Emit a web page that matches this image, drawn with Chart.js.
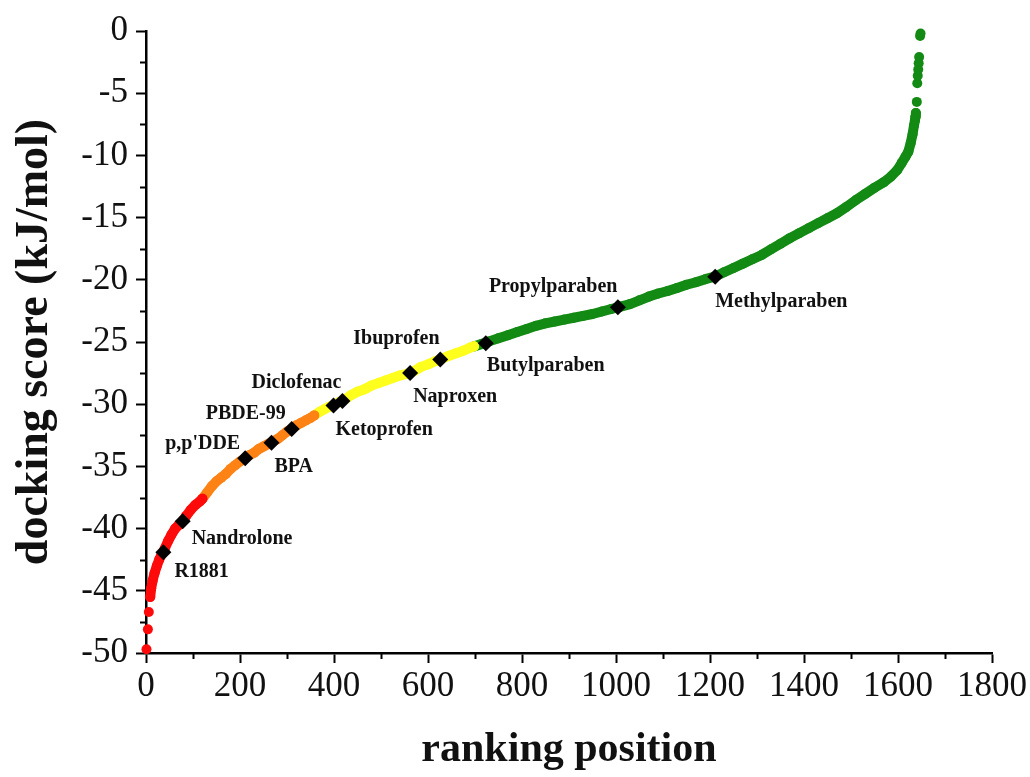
<!DOCTYPE html>
<html>
<head>
<meta charset="utf-8">
<script src="https://cdn.jsdelivr.net/npm/chart.js@4.4.1/dist/chart.umd.min.js"></script>
<style>
  html, body { margin: 0; padding: 0; background: #fff; }
  #wrap { width: 1030px; height: 777px; position: relative; }
</style>
</head>
<body>
<div id="wrap"><canvas id="dockingChart"></canvas></div>
<script>
// ranking position / docking score (kJ/mol) per colour band
// loose dots at the two ends of the ranking
const redTailRank  = [1, 4, 6];
const redTailScore = [-49.7, -48.1, -46.7];

const redRank   = [9, 11, 14, 18, 23, 28, 33, 40, 47, 54, 62, 70, 80, 85, 95, 105, 115, 120];
const redScore  = [-45.5, -44.8, -44.2, -43.6, -43.0, -42.5, -42.1, -41.6, -41.0, -40.5, -40.0, -39.7, -39.3, -39.0, -38.5, -38.1, -37.8, -37.6];

const orangeRank  = [120, 130, 140, 150, 160, 170, 180, 190, 200, 211, 220, 230, 240, 250, 260, 270, 280, 290, 300, 310, 320, 330, 340, 350, 358];
const orangeScore = [-37.6, -37.1, -36.6, -36.2, -35.9, -35.6, -35.2, -34.9, -34.6, -34.35, -34.1, -33.9, -33.6, -33.4, -33.2, -33.0, -32.8, -32.5, -32.2, -32.0, -31.7, -31.5, -31.3, -31.1, -30.9];

const yellowRank  = [358, 370, 380, 390, 400, 410, 420, 435, 450, 465, 480, 495, 510, 525, 540, 555, 570, 585, 600, 615, 630, 645, 660, 675, 690, 698];
const yellowScore = [-30.9, -30.6, -30.4, -30.2, -30.05, -29.85, -29.7, -29.3, -29.0, -28.8, -28.5, -28.3, -28.1, -27.9, -27.7, -27.55, -27.35, -27.0, -26.8, -26.55, -26.35, -26.1, -25.9, -25.7, -25.45, -25.35];

const greenRank  = [698, 715, 730, 750, 770, 790, 810, 830, 850, 870, 890, 910, 930, 950, 970, 990, 1010, 1030, 1050, 1070,
                    1090, 1110, 1130, 1150, 1170, 1190, 1210, 1230, 1250, 1270, 1290, 1310, 1330, 1350, 1370, 1390, 1410, 1430, 1450, 1470,
                    1490, 1510, 1530, 1550, 1570, 1585, 1598, 1608, 1616, 1622, 1627, 1631, 1634, 1636, 1637, 1638];
const greenScore = [-25.35, -25.15, -24.95, -24.7, -24.45, -24.2, -23.95, -23.7, -23.5, -23.35, -23.2, -23.05, -22.9, -22.75, -22.55, -22.35, -22.15, -21.95, -21.65, -21.35,
                    -21.1, -20.9, -20.65, -20.4, -20.2, -19.95, -19.75, -19.4, -19.05, -18.7, -18.35, -18.0, -17.55, -17.1, -16.65, -16.25, -15.85, -15.45, -15.05, -14.65,
                    -14.15, -13.6, -13.1, -12.6, -12.15, -11.7, -11.2, -10.6, -10.1, -9.7, -9.0, -8.3, -7.6, -7.2, -6.9, -6.6];
const greenTipRank  = [1640, 1641, 1642, 1643, 1644, 1645, 1647, 1648];
const greenTipScore = [-5.7, -4.2, -3.6, -3.1, -2.6, -2.1, -0.4, -0.2];

// highlighted compounds
const compoundNames = ['R1881', 'Nandrolone', "p,p'DDE", 'BPA', 'PBDE-99', 'Diclofenac', 'Ketoprofen', 'Naproxen', 'Ibuprofen', 'Butylparaben', 'Propylparaben', 'Methylparaben'];
const compoundRank  = [37, 78, 211, 267, 310, 399, 418, 562, 626, 723, 1004, 1211];
const compoundScore = [-41.9, -39.4, -34.35, -33.1, -32.0, -30.1, -29.75, -27.5, -26.4, -25.1, -22.2, -19.75];

// axis ticks
const xMajor = [0, 200, 400, 600, 800, 1000, 1200, 1400, 1600, 1800];
const yMajor = [0, -5, -10, -15, -20, -25, -30, -35, -40, -45, -50];

// label offsets from the marker (pixels): left edge, baseline
const labelDx = [11, 9, -80, 3, -86, -82, -7, 3, -87, 1, -129, 0];
const labelDy = [25, 23, -9, 29, -10, -17, 34, 29, -15, 28, -15, 30];

const SERIF = '"Liberation Serif", "Times New Roman", serif';
const RED = '#ff0a0a', ORANGE = '#ff8214', YELLOW = '#ffff1e', GREEN = '#138a13';

function toPoints(xs, ys) {
    return xs.map((x, i) => ({ x: x, y: ys[i] }));
}

// a run of dense dots is drawn as a thick round-capped trace through the readings
function band(label, xs, ys, color, joined) {
    return {
        label: label,
        data: toPoints(xs, ys),
        showLine: joined,
        tension: 0,
        backgroundColor: color,
        borderColor: color,
        borderWidth: joined ? 10 : 0,
        borderCapStyle: 'round',
        borderJoinStyle: 'round',
        pointRadius: 5,
        pointBorderWidth: 0,
        order: 1,
        clip: false
    };
}

// minor ticks + compound labels
const extrasPlugin = {
    id: 'extras',
    afterDraw(chart) {
        const ctx = chart.ctx;
        const xs = chart.scales.x;
        const ys = chart.scales.y;
        ctx.save();
        ctx.strokeStyle = '#000';
        ctx.lineWidth = 2;
        ctx.beginPath();
        for (let v = 100; v < 1800; v += 200) {
            const px = Math.round(xs.getPixelForValue(v)) + 0.5;
            ctx.moveTo(px, ys.bottom);
            ctx.lineTo(px, ys.bottom + 6);
        }
        for (let v = -2.5; v > -50; v -= 5) {
            const py = Math.round(ys.getPixelForValue(v)) + 0.5;
            ctx.moveTo(xs.left, py);
            ctx.lineTo(xs.left - 6, py);
        }
        ctx.stroke();

        ctx.fillStyle = '#111';
        ctx.font = 'bold 20px ' + SERIF;
        ctx.textAlign = 'left';
        ctx.textBaseline = 'alphabetic';
        compoundNames.forEach((name, i) => {
            const px = xs.getPixelForValue(compoundRank[i]);
            const py = ys.getPixelForValue(compoundScore[i]);
            ctx.fillText(name, px + labelDx[i], py + labelDy[i]);
        });
        ctx.restore();
    }
};

const ctx = document.getElementById('dockingChart').getContext('2d');
new Chart(ctx, {
    type: 'scatter',
    data: {
        datasets: [
            {
                label: 'compounds',
                data: toPoints(compoundRank, compoundScore),
                pointStyle: 'rectRot',
                pointRadius: 8,
                backgroundColor: '#000',
                borderColor: '#000',
                borderWidth: 0,
                order: 0,
                clip: false
            },
            band('red tail', redTailRank, redTailScore, RED, false),
            band('red', redRank, redScore, RED, true),
            band('orange', orangeRank, orangeScore, ORANGE, true),
            band('yellow', yellowRank, yellowScore, YELLOW, true),
            band('green', greenRank, greenScore, GREEN, true),
            band('green tip', greenTipRank, greenTipScore, GREEN, false)
        ]
    },
    options: {
        responsive: true,
        maintainAspectRatio: false,
        animation: false,
        events: [],
        layout: { padding: { left: 0, right: 38, top: 31, bottom: 0 } },
        plugins: {
            legend: { display: false },
            tooltip: { enabled: false }
        },
        scales: {
            x: {
                type: 'linear',
                min: 0,
                max: 1800,
                afterBuildTicks(scale) { scale.ticks = xMajor.map(v => ({ value: v })); },
                afterFit(scale) { scale.height = 124; },
                border: { display: true, color: '#000', width: 2.5 },
                grid: { drawOnChartArea: false, drawTicks: true, tickLength: 10, tickWidth: 2, tickColor: '#000' },
                ticks: {
                    color: '#111',
                    padding: 3,
                    maxRotation: 0,
                    font: { family: SERIF, size: 35 },
                    callback: v => String(v)
                },
                title: {
                    display: true,
                    text: 'ranking position',
                    color: '#111',
                    padding: { top: 0, bottom: 2 },
                    font: { family: SERIF, size: 42, weight: 'bold' }
                }
            },
            y: {
                type: 'linear',
                min: -50,
                max: 0,
                afterBuildTicks(scale) { scale.ticks = yMajor.map(v => ({ value: v })); },
                afterFit(scale) { scale.width = 146; },
                border: { display: true, color: '#000', width: 2.5 },
                grid: { drawOnChartArea: false, drawTicks: true, tickLength: 10, tickWidth: 2, tickColor: '#000' },
                ticks: {
                    color: '#111',
                    padding: 8,
                    font: { family: SERIF, size: 35 },
                    callback: v => String(v)
                },
                title: {
                    display: true,
                    text: 'docking score (kJ/mol)',
                    color: '#111',
                    padding: { top: 8, bottom: 0 },
                    font: { family: SERIF, size: 46, weight: 'bold' }
                }
            }
        }
    },
    plugins: [extrasPlugin]
});
</script>
</body>
</html>
